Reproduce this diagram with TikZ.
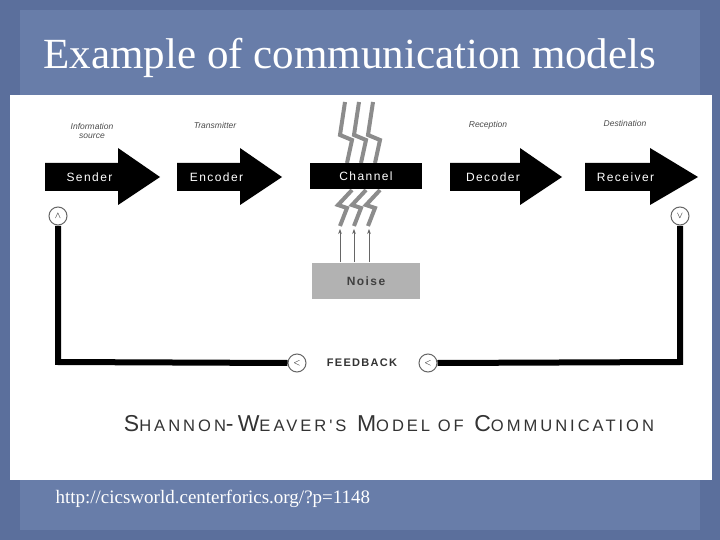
\documentclass[tikz,border=0pt]{standalone}
\usepackage{fontspec}
\setmainfont{Liberation Serif}
\newfontfamily\dsans{Liberation Sans}
\newfontfamily\dsansw{Liberation Sans}[LetterSpace=12]
\usetikzlibrary{arrows.meta}
\definecolor{bgblue}{HTML}{5B6F9C}
\definecolor{bgmid}{HTML}{7287B2}
\tikzset{
  x=1pt,y=-1pt,
  lbl/.style={font=\dsans\itshape\fontsize{8.5}{9.5}\selectfont,text=black!70,align=center},
  boxtxt/.style={font=\dsansw\fontsize{12}{13}\selectfont,text=white},
  bolt/.style={draw=black!45,line width=4pt,line join=miter},
  fb/.style={line width=6pt,black},
  circ/.style={circle,draw=black!60,line width=1pt,fill=white,minimum size=18pt,inner sep=0pt,font=\dsans\bfseries\fontsize{9}{9}\selectfont}
}
\newcommand{\bigarrow}[5]{% name, x0, x1(body end), x2(tip), text
  \fill[black] (#2,163) -- (#3,163) -- (#3,148) -- (#4,177) -- (#3,205) -- (#3,191) -- (#2,191) -- cycle;
  \node[boxtxt] (#1) at ({(#2+#3)/2+8},177) {#5};}
\begin{document}
\begin{tikzpicture}
\useasboundingbox (0,0) rectangle (720,540);
\fill[bgblue] (0,0) rectangle (720,540);
\fill[bgmid,opacity=0.6] (20,10) rectangle (700,530);
\node[font=\fontsize{43}{46}\selectfont,text=white,anchor=west] (title) at (40,58) {Example of communication models};
\fill[white] (10,95) rectangle (712,480);
\node[font=\fontsize{19}{21}\selectfont,text=white,anchor=west] (url) at (52,499) {http://cicsworld.centerforics.org/?p=1148};
% lightning
\foreach \dx in {0,14,28}{
  \draw[bolt] (345+\dx,102) -- (340+\dx,135) -- (352+\dx,140) -- (347+\dx,163);
  \draw[bolt] (352+\dx,190) -- (338+\dx,205) -- (347+\dx,208) -- (340+\dx,226);
}
\bigarrow{sender}{45}{118}{160}{Sender}
\bigarrow{encoder}{177}{240}{282}{Encoder}
\bigarrow{decoder}{450}{520}{562}{Decoder}
\bigarrow{receiver}{585}{650}{698}{Receiver}
\node[fill=black,minimum width=112pt,minimum height=26pt,boxtxt] (channel) at (366,176) {Channel};
\node[fill=black!30,minimum width=108pt,minimum height=36pt,font=\dsansw\bfseries\fontsize{12}{13}\selectfont,text=black!75] (noise) at (366,281) {Noise};
\foreach \xx in {340,354,369}{
  \coordinate (n\xx) at (\xx,262);
  \draw[black!60,line width=1pt,-{Stealth[length=5pt]}] (n\xx) -- (\xx,229);
}
\node[lbl] (l1) at (92,131) {Information\\source};
\node[lbl] (l2) at (215,125) {Transmitter};
\node[lbl] (l3) at (488,125) {Reception};
\node[lbl] (l4) at (625,123) {Destination};
\node[circ] (ca) at (58,216) {$\wedge$};
\node[circ] (cv) at (680,216) {$\vee$};
\node[circ] (c1) at (297,363) {$<$};
\node[circ] (c2) at (428,363) {$<$};
\node[font=\dsansw\bfseries\fontsize{11}{11}\selectfont,text=black!80] (fbt) at (362,363) {FEEDBACK};
\draw[fb] (58,226) -- (58,362) -- (c1.west);
\draw[fb] (c2.east) -- (680,362) -- (680,226);
\node[font=\dsans\addfontfeature{LetterSpace=18}\fontsize{23}{25}\selectfont,text=black!80] (cap) at (389,424) {S\scalebox{0.72}{HANNON}-W\scalebox{0.72}{EAVER'S} M\scalebox{0.72}{ODEL OF} C\scalebox{0.72}{OMMUNICATION}};
\end{tikzpicture}
\end{document}
